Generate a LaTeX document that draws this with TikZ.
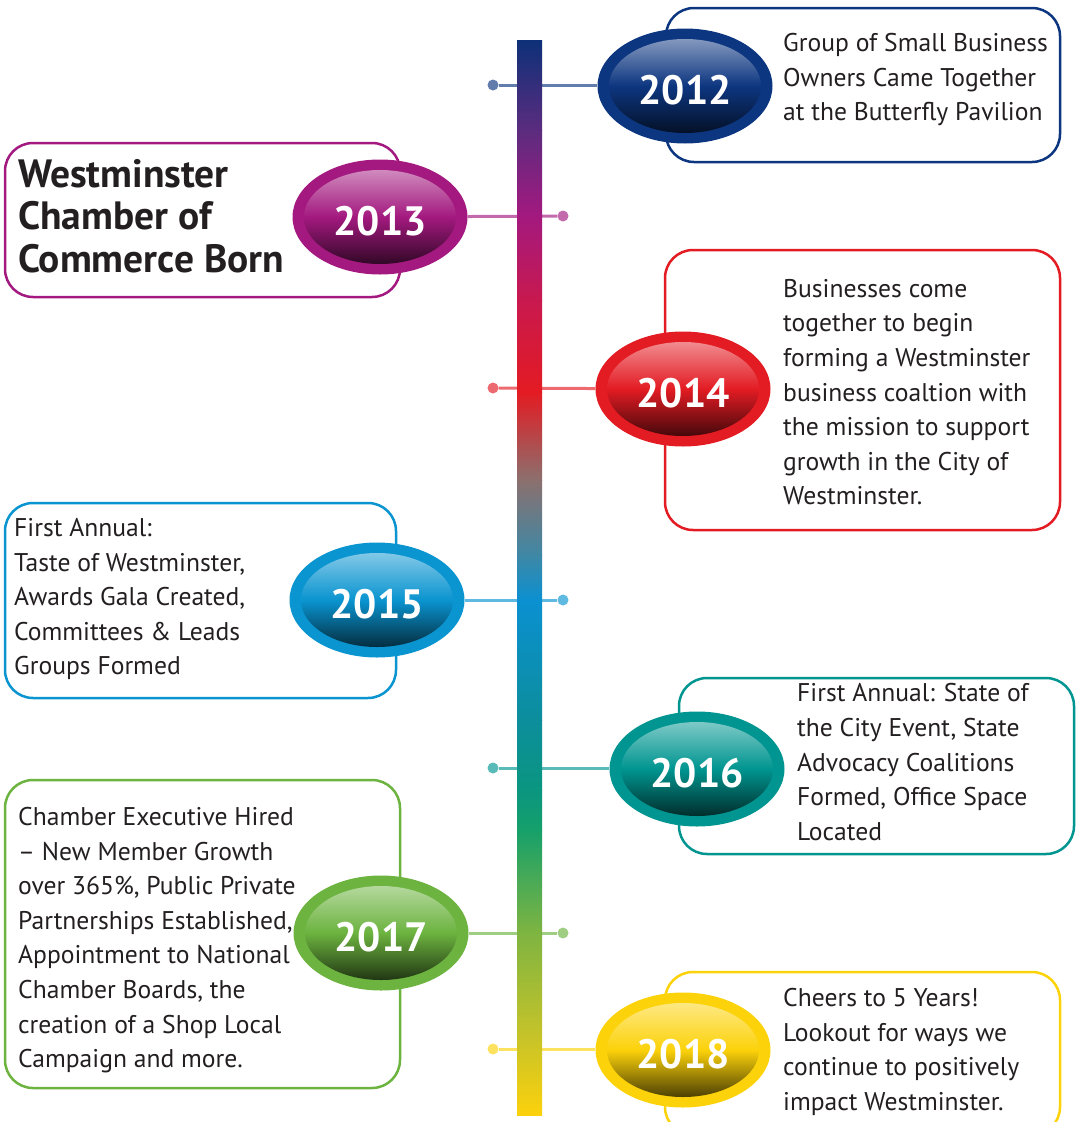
\documentclass[tikz,border=0pt]{standalone}
\usepackage{fontspec}
\setmainfont{PT Sans}
\usetikzlibrary{shapes.geometric,backgrounds}

\definecolor{ink}{HTML}{231F20}
\definecolor{c12}{HTML}{0D3680}
\definecolor{c13}{HTML}{A3197F}
\definecolor{c14}{HTML}{E31B23}
\definecolor{c15}{HTML}{0A94D0}
\definecolor{c16}{HTML}{009590}
\definecolor{c17}{HTML}{6CB33F}
\definecolor{c18}{HTML}{FCD20A}
% bar stops
\definecolor{b0}{HTML}{0D3078}
\definecolor{b1}{HTML}{5B2C7F}
\definecolor{b2}{HTML}{A3197F}
\definecolor{b3}{HTML}{C8194F}
\definecolor{b4}{HTML}{E41B22}
\definecolor{b5}{HTML}{8B706E}
\definecolor{b6}{HTML}{3E88A6}
\definecolor{b7}{HTML}{0B90D1}
\definecolor{b8}{HTML}{0C8E9C}
\definecolor{b9}{HTML}{0A9680}
\definecolor{b10}{HTML}{16A06A}
\definecolor{b11}{HTML}{7CB442}
\definecolor{b12}{HTML}{C9C428}
\definecolor{b13}{HTML}{FCD10C}

\begin{document}
\begin{tikzpicture}[x=1pt,y=-1pt]

\tikzset{box/.style={draw=#1,line width=2.5pt,rounded corners=28pt}}
\tikzset{link/.style={draw=#1!65!white,line width=3pt}}
\tikzset{dot/.style={circle,fill=#1!65!white,inner sep=0pt,minimum size=11pt}}
\tikzset{year/.style={ellipse,fill=#1,minimum width=175pt,minimum height=115pt,inner sep=0pt,
  text=white,font=\fontsize{41}{44}\selectfont\bfseries,text height=36pt,text depth=0pt,
  path picture={\shade[top color=#1!40!white,bottom color=#1!15!black,middle color=#1]
    (path picture bounding box.center) ellipse[x radius=76pt,y radius=47pt];}}}
\tikzset{txt/.style={anchor=north west,inner sep=0pt,align=left,text=ink,
  font=\fontsize{25.6}{34.6}\selectfont}}

\useasboundingbox (0,0) rectangle (1080,1122);

\node[dot=c12] (d12) at (493,85) {};
\node[dot=c13] (d13) at (563,216) {};
\node[dot=c14] (d14) at (493,388) {};
\node[dot=c15] (d15) at (563,600) {};
\node[dot=c16] (d16) at (493,768) {};
\node[dot=c17] (d17) at (563,933) {};
\node[dot=c18] (d18) at (493,1049) {};

\node[year=c12] (y12) at (685,86) {2012};
\node[year=c13] (y13) at (380,217) {2013};
\node[year=c14] (y14) at (683,389) {2014};
\node[year=c15] (y15) at (377,600) {2015};
\node[year=c16] (y16) at (697,769) {2016};
\node[year=c17] (y17) at (381,933) {2017};
\node[year=c18] (y18) at (683,1050) {2018};

\node[txt] (t12) at (783,33) {Group of Small Business\\Owners Came Together\\at the Butterfly Pavilion};
\node[txt,font=\fontsize{39.5}{42.5}\selectfont\bfseries] (t13) at (18,159) {Westminster\\Chamber of\\Commerce Born};
\node[txt] (t14) at (783,279) {Businesses come\\together to begin\\forming a Westminster\\business coaltion with\\the mission to support\\growth in the City of\\Westminster.};
\node[txt] (t15) at (14,518) {First Annual:\\Taste of Westminster,\\Awards Gala Created,\\Committees \& Leads\\Groups Formed};
\node[txt] (t16) at (797,683.5) {First Annual: State of\\the City Event, State\\Advocacy Coalitions\\Formed, Office Space\\Located};
\node[txt] (t17) at (18,807) {Chamber Executive Hired\\-- New Member Growth\\over 365\%, Public Private\\Partnerships Established,\\Appointment to National\\Chamber Boards, the\\creation of a Shop Local\\Campaign and more.};
\node[txt] (t18) at (783,988) {Cheers to 5 Years!\\Lookout for ways we\\continue to positively\\impact Westminster.};

\begin{scope}[on background layer]
\draw[box=c12] (666,8) rectangle (1060,162);
\draw[box=c13] (5,143) rectangle (400,297);
\draw[box=c14] (665,250) rectangle (1060,530);
\draw[box=c15] (5,503) rectangle (396,698);
\draw[box=c16] (679,678) rectangle (1074,854);
\draw[box=c17] (5,780) rectangle (400,1088);
\draw[box=c18] (665,972) rectangle (1060,1135);

\draw[link=c12] (d12) -- (d12 -| y12.west);
\draw[link=c13] (y13) -- (d13);
\draw[link=c14] (d14) -- (y14);
\draw[link=c15] (y15) -- (d15);
\draw[link=c16] (d16) -- (d16 -| y16.west);
\draw[link=c17] (y17) -- (d17);
\draw[link=c18] (d18) -- (d18 -| y18.west);

% timeline bar
\foreach \ya/\yb/\ca/\cb in {40/130/b0/b1,130/215/b1/b2,215/300/b2/b3,300/392/b3/b4,
  392/480/b4/b5,480/555/b5/b6,555/600/b6/b7,600/720/b7/b8,720/790/b8/b9,
  790/830/b9/b10,830/930/b10/b11,930/1040/b11/b12,1040/1115/b12/b13}
  \shade[top color=\ca,bottom color=\cb] (517,\ya) rectangle (542,\yb+0.6);
\end{scope}

\end{tikzpicture}
\end{document}
